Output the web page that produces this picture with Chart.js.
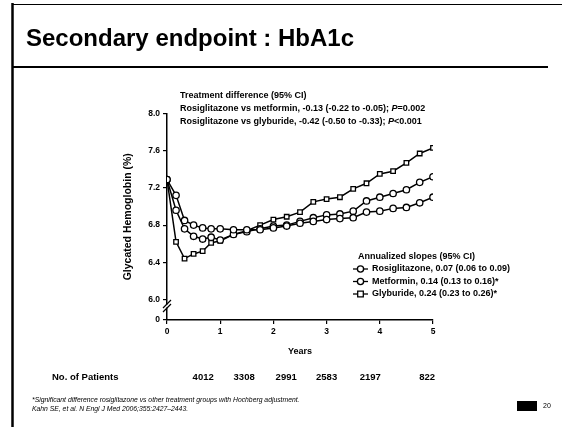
<!DOCTYPE html>
<html>
<head>
<meta charset="utf-8">
<script src="https://cdn.jsdelivr.net/npm/chart.js@4.4.0/dist/chart.umd.min.js"></script>
<style>
html, body { margin: 0; padding: 0; background: #fff; }
#wrap { position: relative; width: 562px; height: 427px; }
</style>
</head>
<body>
<div id="wrap"><canvas id="hba1cChart" width="562" height="427"></canvas></div>
<script>
// Visit times (years) and mean HbA1c (%) for each treatment group
const visitYears = [0, 0.17, 0.33, 0.5, 0.67, 0.83, 1, 1.25, 1.5, 1.75, 2, 2.25, 2.5, 2.75, 3, 3.25, 3.5, 3.75, 4, 4.25, 4.5, 4.75, 5];
const rosiglitazoneData = [7.29, 7.12, 6.85, 6.80, 6.77, 6.76, 6.76, 6.75, 6.75, 6.75, 6.77, 6.79, 6.82, 6.84, 6.86, 6.87, 6.88, 6.94, 6.95, 6.98, 6.99, 7.04, 7.10];
const metforminData = [7.29, 6.96, 6.76, 6.68, 6.65, 6.67, 6.64, 6.70, 6.73, 6.76, 6.79, 6.80, 6.84, 6.88, 6.91, 6.92, 6.95, 7.06, 7.10, 7.14, 7.18, 7.26, 7.32];
const glyburideData = [7.29, 6.62, 6.44, 6.49, 6.52, 6.61, 6.63, 6.70, 6.74, 6.80, 6.86, 6.89, 6.94, 7.05, 7.08, 7.10, 7.19, 7.25, 7.35, 7.38, 7.47, 7.57, 7.63];

const yTickValues = [6.0, 6.4, 6.8, 7.2, 7.6, 8.0];
const xTickValues = [0, 1, 2, 3, 4, 5];
const patientCounts = [4012, 3308, 2991, 2583, 2197, 822];

const slideTitle = 'Secondary endpoint : HbA1c';
const treatmentLines = [
    ['Treatment difference (95% CI)', '', ''],
    ['Rosiglitazone vs metformin, -0.13 (-0.22 to -0.05); ', 'P', '=0.002'],
    ['Rosiglitazone vs glyburide, -0.42 (-0.50 to -0.33); ', 'P', '<0.001']
];
const slopeTitle = 'Annualized slopes (95% CI)';
const slopeLabels = [
    'Rosiglitazone, 0.07 (0.06 to 0.09)',
    'Metformin, 0.14 (0.13 to 0.16)*',
    'Glyburide, 0.24 (0.23 to 0.26)*'
];
const footnotes = [
    '*Significant difference rosiglitazone vs other treatment groups with Hochberg adjustment.',
    'Kahn SE, et al. N Engl J Med 2006;355:2427\u20132443.'
];

// layout helpers (not data)
const AXIS_ZERO = 5.78;                 // where the "0" sits below the axis break
const patientYears = [0.68, 1.45, 2.24, 3.0, 3.82, 4.89];
const FONT = '"Liberation Sans", Arial, sans-serif';

const toPoints = arr => visitYears.map((x, i) => ({ x: x, y: arr[i] }));
const lineStyle = (style) => ({
    borderColor: '#000',
    borderWidth: 1.5,
    backgroundColor: '#fff',
    pointBackgroundColor: '#fff',
    pointBorderColor: '#000',
    pointBorderWidth: 1.3,
    pointRadius: 3.2,
    pointStyle: style,
    tension: 0,
    fill: false
});

function drawMarker(c, style, x, y) {
    c.fillStyle = '#fff';
    c.strokeStyle = '#000';
    c.lineWidth = 1.3;
    c.beginPath();
    if (style === 'rect') c.rect(x - 2.8, y - 2.8, 5.6, 5.6);
    else c.arc(x, y, 3.1, 0, Math.PI * 2);
    c.fill();
    c.stroke();
}

const slideDecor = {
    id: 'slideDecor',
    beforeDraw(chart) {
        const c = chart.ctx;
        c.save();
        c.fillStyle = '#fff';
        c.fillRect(0, 0, chart.width, chart.height);
        c.strokeStyle = '#000';
        c.lineWidth = 2.5;
        c.beginPath(); c.moveTo(12.5, 3); c.lineTo(12.5, 427); c.stroke();
        c.lineWidth = 1;
        c.beginPath(); c.moveTo(12, 4.5); c.lineTo(562, 4.5); c.stroke();
        c.lineWidth = 2;
        c.beginPath(); c.moveTo(12, 67); c.lineTo(548, 67); c.stroke();
        c.fillStyle = '#000';
        c.font = 'bold 24px ' + FONT;
        c.textBaseline = 'alphabetic';
        c.fillText(slideTitle, 26, 46);
        c.restore();
    },
    afterDraw(chart) {
        const c = chart.ctx;
        const xs = chart.scales.x, ys = chart.scales.y;
        c.save();
        c.fillStyle = '#000';
        c.strokeStyle = '#000';

        // axis break marks
        const bx = xs.left, by = ys.getPixelForValue(5.93);
        c.fillStyle = '#fff';
        c.fillRect(bx - 2, by - 1.5, 4, 3);
        c.lineWidth = 1.2;
        c.beginPath();
        c.moveTo(bx - 4, by + 2); c.lineTo(bx + 4, by - 6);
        c.moveTo(bx - 4, by + 6); c.lineTo(bx + 4, by - 2);
        c.stroke();

        // treatment difference text
        c.fillStyle = '#000';
        c.textBaseline = 'middle';
        treatmentLines.forEach((parts, i) => {
            const y = 96 + i * 12.7;
            let x = 180;
            c.font = 'bold 9px ' + FONT;
            c.fillText(parts[0], x, y);
            x += c.measureText(parts[0]).width;
            if (parts[1]) {
                c.font = 'italic bold 9px ' + FONT;
                c.fillText(parts[1], x, y);
                x += c.measureText(parts[1]).width;
                c.font = 'bold 9px ' + FONT;
                c.fillText(parts[2], x, y);
            }
        });

        // slope legend
        c.font = 'bold 9px ' + FONT;
        c.fillText(slopeTitle, 358, 257);
        const styles = chart.data.datasets.map(d => d.pointStyle);
        slopeLabels.forEach((label, i) => {
            const y = 269 + i * 12.5;
            c.lineWidth = 1.3;
            c.beginPath(); c.moveTo(353, y); c.lineTo(368, y); c.stroke();
            drawMarker(c, styles[i], 360.5, y);
            c.fillStyle = '#000';
            c.font = 'bold 9px ' + FONT;
            c.fillText(label, 372, y);
        });

        // number of patients row
        c.font = 'bold 9.5px ' + FONT;
        c.fillText('No. of Patients', 52, 377);
        c.textAlign = 'center';
        patientCounts.forEach((n, i) => {
            c.fillText(String(n), xs.getPixelForValue(patientYears[i]), 377);
        });

        // footnotes
        c.textAlign = 'left';
        c.font = 'italic 6.8px ' + FONT;
        footnotes.forEach((t, i) => c.fillText(t, 32, 400 + i * 9));

        // page number
        c.fillRect(517, 401, 20, 10);
        c.font = '7px ' + FONT;
        c.fillText('20', 543, 406);
        c.restore();
    }
};

const ctx = document.getElementById('hba1cChart').getContext('2d');
new Chart(ctx, {
    type: 'line',
    data: {
        datasets: [
            Object.assign({ label: 'Rosiglitazone', data: toPoints(rosiglitazoneData) }, lineStyle('circle')),
            Object.assign({ label: 'Metformin', data: toPoints(metforminData) }, lineStyle('circle')),
            Object.assign({ label: 'Glyburide', data: toPoints(glyburideData) }, lineStyle('rect'))
        ]
    },
    options: {
        responsive: false,
        animation: false,
        devicePixelRatio: 1,
        layout: { padding: { left: 117, right: 129, top: 113.5, bottom: 67 } },
        scales: {
            x: {
                type: 'linear',
                min: 0,
                max: 5,
                afterBuildTicks: s => { s.ticks = xTickValues.map(v => ({ value: v })); },
                afterFit: s => { s.height = 40; },
                grid: { display: true, drawOnChartArea: false, drawTicks: true, tickLength: 4, color: '#000', lineWidth: 1.2 },
                border: { display: true, color: '#000', width: 1.5 },
                ticks: { color: '#000', padding: 3, maxRotation: 0, font: { family: FONT, size: 8.5, weight: 'bold' } },
                title: { display: true, text: 'Years', color: '#000', padding: { top: 0, bottom: 3 }, font: { family: FONT, size: 9, weight: 'bold' } }
            },
            y: {
                type: 'linear',
                min: AXIS_ZERO,
                max: 8.0,
                afterBuildTicks: s => { s.ticks = [AXIS_ZERO].concat(yTickValues).map(v => ({ value: v })); },
                afterFit: s => { s.width = 50; },
                grid: { display: true, drawOnChartArea: false, drawTicks: true, tickLength: 4, color: '#000', lineWidth: 1.2 },
                border: { display: true, color: '#000', width: 1.5 },
                ticks: {
                    color: '#000', padding: 3,
                    font: { family: FONT, size: 8.5, weight: 'bold' },
                    callback: v => (v === AXIS_ZERO ? '0' : Number(v).toFixed(1))
                },
                title: { display: true, text: 'Glycated Hemoglobin (%)', color: '#000', padding: { top: 5, bottom: 0 }, font: { family: FONT, size: 10.5, weight: 'bold' } }
            }
        },
        plugins: {
            legend: { display: false },
            tooltip: { enabled: false }
        }
    },
    plugins: [slideDecor]
});
</script>
</body>
</html>
